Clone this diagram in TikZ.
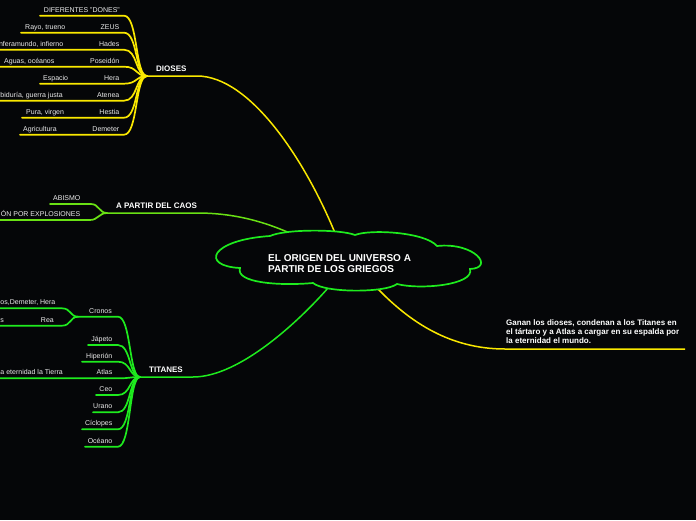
\documentclass[tikz,border=0pt]{standalone}
\usepackage{fontspec}
\setmainfont{Liberation Sans}
\definecolor{bg}{RGB}{5,6,8}
\definecolor{yel}{RGB}{250,232,0}
\definecolor{grn}{RGB}{30,235,30}
\definecolor{lime}{RGB}{105,225,20}
\definecolor{txt}{RGB}{235,235,235}
\tikzset{
  small/.style={font=\fontsize{7}{8}\selectfont, text=txt, inner sep=0pt},
  boldlab/.style={font=\bfseries\fontsize{8}{9}\selectfont, text=white, inner sep=0pt},
  branch/.style={line width=1.7pt, line cap=round},
  mainline/.style={line width=1.5pt},
}
\begin{document}
\begin{tikzpicture}[x=1pt,y=-1pt]
\fill[bg] (0,0) rectangle (696,520);
\useasboundingbox (0,0) rectangle (696,520);

% ---------------- DIOSES ----------------
\coordinate (dh) at (147,76);
\coordinate (dm) at (197,76);
\coordinate (dc) at (335,233);
\draw[yel,mainline] (dh) -- (dm) .. controls (250,76) and (305,160) .. (dc);
\node[boldlab, anchor=base west] (dioses) at (156,71.5) {DIOSES};

\foreach \n/\y/\x in {1/15.7/40, 2/32.7/21, 3/49.7/0, 4/66.7/0, 5/83.7/40, 6/100.7/0, 7/117.7/22, 8/134.7/20}{
  \coordinate (ds\n) at (\x,\y);
  \coordinate (de\n) at (124,\y);
  \draw[yel,branch] (ds\n) -- (de\n) .. controls +(14,0) and +(-12,0) .. (dh);
}
\node[small, anchor=base east] (t1) at (120,12) {DIFERENTES "DONES"};
\node[small, anchor=base east] (zeus) at (119.5,29) {ZEUS};
\node[small, anchor=base west] (zeusc) at (25,29) {Rayo, trueno};
\node[small, anchor=base east] (hades) at (119.5,46) {Hades};
\node[small, anchor=base east] (hadesc) at (63.5,46) {nferamundo, infierno};
\node[small, anchor=base east] (pos) at (119.5,63) {Poseidón};
\node[small, anchor=base west] (posc) at (4,63) {Aguas, océanos};
\node[small, anchor=base east] (hera) at (119.5,80) {Hera};
\node[small, anchor=base west] (herac) at (43,80) {Espacio};
\node[small, anchor=base east] (aten) at (119.5,97) {Atenea};
\node[small, anchor=base west] (atenc) at (0.3,97) {biduría, guerra justa};
\node[small, anchor=base east] (hest) at (119.5,114) {Hestia};
\node[small, anchor=base west] (hestc) at (26,114) {Pura, virgen};
\node[small, anchor=base east] (deme) at (119.5,131) {Demeter};
\node[small, anchor=base west] (demec) at (23,131) {Agricultura};

% ---------------- A PARTIR DEL CAOS ----------------
\coordinate (ch) at (107,213);
\coordinate (cm) at (197,213);
\coordinate (cc) at (292,234);
\draw[lime,mainline] (ch) -- (cm) .. controls (235,213) and (265,222) .. (cc);
\node[boldlab, anchor=base west] (caos) at (116,208.5) {A PARTIR DEL CAOS};
\coordinate (cs1) at (50,204); \coordinate (ce1) at (91,204);
\coordinate (cs2) at (0,220); \coordinate (ce2) at (90,220);
\draw[lime,branch] (cs1) -- (ce1) .. controls +(8,0) and +(-8,0) .. (ch);
\draw[lime,branch] (cs2) -- (ce2) .. controls +(8,0) and +(-8,0) .. (ch);
\node[small, anchor=base west] (abis) at (53,200.5) {ABISMO};
\node[small, anchor=base east] (expl) at (80.5,216.5) {ÓN POR EXPLOSIONES};

% ---------------- TITANES ----------------
\coordinate (th) at (140,377);
\coordinate (tm) at (193,377);
\coordinate (tc) at (328,288);
\draw[grn,mainline] (th) -- (tm) .. controls (240,377) and (300,320) .. (tc);
\node[boldlab, anchor=base west] (titanes) at (149,372.5) {TITANES};

\foreach \n/\y/\x in {1/316.7/78, 2/345/88, 3/361.7/82, 4/378.3/0, 5/395/96, 6/412.3/93, 7/429.3/82, 8/446.7/85}{
  \coordinate (ts\n) at (\x,\y);
  \coordinate (te\n) at (118,\y);
  \draw[grn,branch] (ts\n) -- (te\n) .. controls +(13,0) and +(-11,0) .. (th);
}
% Cronos sub-branch
\coordinate (crh) at (78,316.7);
\coordinate (crs1) at (0,308.3); \coordinate (cre1) at (62,308.3);
\coordinate (crs2) at (0,325.7); \coordinate (cre2) at (62,325.7);
\draw[grn,branch] (crs1) -- (cre1) .. controls +(9,0) and +(-8,0) .. (crh);
\draw[grn,branch] (crs2) -- (cre2) .. controls +(9,0) and +(-8,0) .. (crh);

\node[small, anchor=base east] (cron) at (112,313) {Cronos};
\node[small, anchor=base west] (cronc) at (0.3,304.5) {os,Demeter, Hera};
\node[small, anchor=base east] (rea) at (54,322) {Rea};
\node[small, anchor=base west] (reac) at (0.3,322) {s};
\node[small, anchor=base east] (jap) at (112.5,341.3) {Jápeto};
\node[small, anchor=base east] (hip) at (112.5,358) {Hiperión};
\node[small, anchor=base east] (atl) at (112.5,374.6) {Atlas};
\node[small, anchor=base west] (atlc) at (0.3,374.6) {a eternidad la Tierra};
\node[small, anchor=base east] (ceo) at (112.5,391.3) {Ceo};
\node[small, anchor=base east] (ura) at (112.5,408.6) {Urano};
\node[small, anchor=base east] (cic) at (112.5,425.6) {Cíclopes};
\node[small, anchor=base east] (oce) at (112.5,443) {Océano};

% ---------------- GANAN ----------------
\coordinate (gs) at (378,289);
\coordinate (gm) at (505,349);
\coordinate (ge) at (685,349);
\draw[yel,mainline] (gs) .. controls (410,322) and (450,349) .. (gm) -- (ge);
\node[anchor=north west, align=left, inner sep=0pt, text=white,
      font=\bfseries\fontsize{8}{9}\selectfont] (ganan) at (506,319.5)
  {Ganan los dioses, condenan a los Titanes en\\el tártaro y a Atlas a cargar en su espalda por\\la eternidad el mundo.};

% ---------------- CLOUD ----------------
\draw[grn, line width=1.7pt, fill=bg]
  (240,268) .. controls (200,266) and (210,240) .. (270,236)
  .. controls (285,229) and (340,229) .. (355,235)
  .. controls (370,229) and (425,232) .. (437,246)
  .. controls (475,242) and (495,268) .. (470,269)
  .. controls (475,285) and (420,290) .. (397,284)
  .. controls (385,293) and (325,293) .. (313,283)
  .. controls (280,286) and (235,283) .. cycle;
\node[anchor=north west, align=left, inner sep=0pt, text=white,
      font=\bfseries\fontsize{10}{11}\selectfont] (center) at (268,254.3)
  {EL ORIGEN DEL UNIVERSO A\\PARTIR DE LOS GRIEGOS};
\end{tikzpicture}
\end{document}
